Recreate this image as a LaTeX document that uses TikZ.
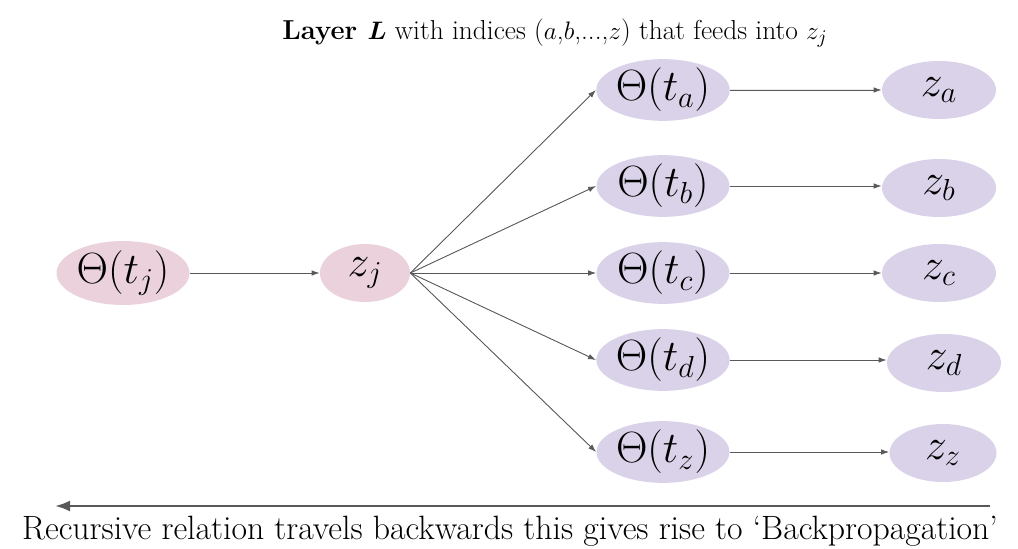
\documentclass[tikz,border=0pt]{standalone}
\usepackage{amsmath}
\usepackage{tikz}
\usetikzlibrary{arrows.meta, positioning, shapes.geometric}
\definecolor{pinkfill}{RGB}{234,209,220}
\definecolor{lavfill}{RGB}{217,210,233}
\definecolor{linegray}{RGB}{89,89,89}

\begin{document}
\begin{tikzpicture}[
node distance=4.84cm,
every node/.style={ellipse, minimum height=1.16cm, inner sep=0pt, font=\fontsize{23}{27}\selectfont},
thetanode/.style={fill=lavfill, minimum width=2.66cm},
znode/.style={fill=lavfill, minimum width=2.28cm},
arrow/.style={-{Latex[length=1.6mm,width=1.1mm]}, draw=linegray, fill=linegray, line width=0.5pt}
]
\useasboundingbox (0,0) rectangle (20.36,10.96);

\node[thetanode, fill=pinkfill] (tj) at (2.46,5.5) {$\Theta(t_j)$};
\node[znode, fill=pinkfill, minimum width=1.8cm] (zj) [right of=tj] {$z_j$};

\node[thetanode] (ta) at (13.26,9.16) {$\Theta(t_a)$};
\node[thetanode] (tb) at (13.26,7.24) {$\Theta(t_b)$};
\node[thetanode] (tc) at (13.26,5.5) {$\Theta(t_c)$};
\node[thetanode] (td) at (13.26,3.76) {$\Theta(t_d)$};
\node[thetanode] (tz) at (13.26,1.92) {$\Theta(t_z)$};

\node[znode] (za) at (18.78,9.16) {$z_a$};
\node[znode] (zb) at (18.78,7.2) {$z_b$};
\node[znode] (zc) at (18.78,5.5) {$z_c$};
\node[znode] (zd) at (18.88,3.7) {$z_d$};
\node[znode, minimum width=2.14cm] (zz) at (18.86,1.9) {$z_z$};

% forward connections
\draw[arrow] (tj) -- (zj);
\draw[arrow] (zj.east) -- (ta.west);
\draw[arrow] (zj.east) -- (tb.west);
\draw[arrow] (zj.east) -- (tc.west);
\draw[arrow] (zj.east) -- (td.west);
\draw[arrow] (zj.east) -- (tz.west);

\draw[arrow] (ta) -- (za);
\draw[arrow] (tb.east) -- (zb.west |- tb.east);
\draw[arrow] (tc) -- (zc);
\draw[arrow] (td.east) -- (zd.west |- td.east);
\draw[arrow] (tz.east) -- (zz.west |- tz.east);

% title and backward arrow
\node[rectangle, minimum height=0pt, font=\fontsize{15.6}{18}\selectfont] (title) at (11.1,10.3)
  {\textbf{Layer $\boldsymbol{L}$} with indices ($a$,$b$,...,$z$) that feeds into $z_j$};
\coordinate (backstart) at (19.8,0.84);
\coordinate (backend) at (1.1,0.84);
\draw[-{Latex[length=3mm,width=2.2mm]}, draw=linegray, fill=linegray, line width=1.4pt] (backstart) -- (backend);
\node[rectangle, minimum height=0pt, font=\fontsize{19.2}{22}\selectfont] (caption) at (10.2,0.34)
  {Recursive relation travels backwards this gives rise to `Backpropagation'};

\end{tikzpicture}
\end{document}
